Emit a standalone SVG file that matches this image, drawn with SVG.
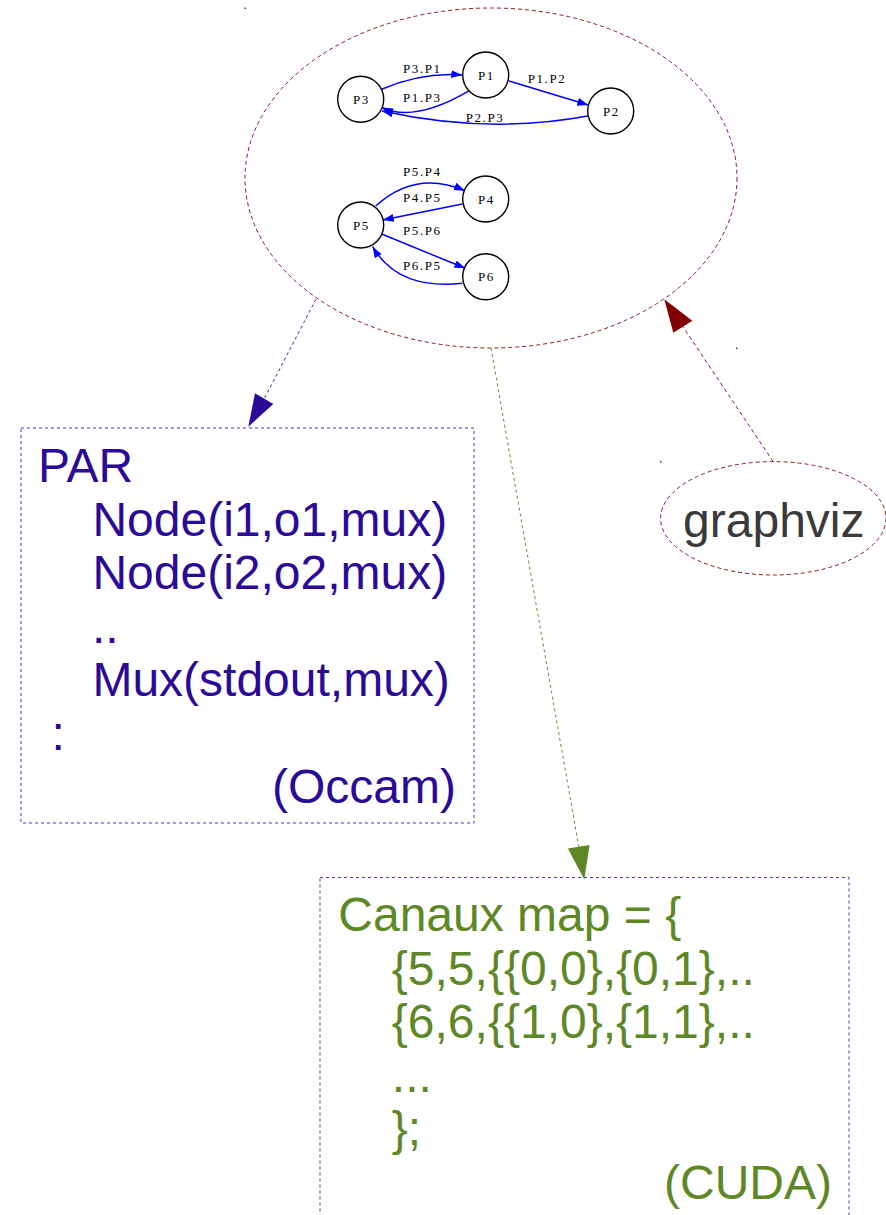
<svg xmlns="http://www.w3.org/2000/svg" width="886" height="1215" viewBox="0 0 886 1215">
<style>
.dash{fill:none;stroke-width:1;stroke-dasharray:3,3}
.red{stroke:#8b1a1a;stroke-dasharray:4,3}
.box{fill:none;stroke:#4040b0;stroke-width:1;stroke-dasharray:3,3}
.big{font-family:"Liberation Sans",Arial,sans-serif;font-size:48px}
.occ{fill:#2c0a98}
.cuda{fill:#5e8726}
.gv{fill:#3a3a3a}
.pn{fill:#fff;stroke:#000;stroke-width:1.4}
.pl{font-family:"Liberation Serif","Times New Roman",serif;font-size:13px;letter-spacing:1.6px;fill:#000}
.pe{fill:none;stroke:#0000ff;stroke-width:1.5}
</style>
<defs>
<marker id="ah" markerUnits="userSpaceOnUse" markerWidth="12" markerHeight="9" refX="11" refY="4" orient="auto">
<path d="M0,0 L11,4 L0,8 z" fill="#0000ff"/>
</marker>
</defs>

<g id="dots" fill="#8b1a1a">
<rect x="244.5" y="7.5" width="1.5" height="1.5"/>
<rect x="736" y="347.5" width="1.5" height="1.5"/>
<rect x="660" y="461" width="1.5" height="1.5"/>
</g>

<g id="graph-container">
<ellipse class="dash red" cx="491" cy="178" rx="246" ry="170"/>
</g>

<g id="inner-edges">
<path class="pe" marker-end="url(#ah)" d="M381.7,89.3 Q422,71.8 462.3,75"/>
<path class="pe" marker-end="url(#ah)" d="M469.3,90.7 Q414.5,123 381.7,107.5"/>
<path class="pe" marker-end="url(#ah)" d="M509,81 L588.3,105"/>
<path class="pe" marker-end="url(#ah)" d="M587.7,116 Q488.5,134.5 382,111"/>
<path class="pe" marker-end="url(#ah)" d="M375.7,206 Q415.7,169.7 465,190.7"/>
<path class="pe" marker-end="url(#ah)" d="M462.3,204 L382.7,220"/>
<path class="pe" marker-end="url(#ah)" d="M382.3,234.3 L465.3,268.3"/>
<path class="pe" marker-end="url(#ah)" d="M462.3,283.3 C425,287 392,280 372.7,246.7"/>
<text class="pl" x="403" y="72.7">P3.P1</text>
<text class="pl" x="403" y="101.7">P1.P3</text>
<text class="pl" x="527.7" y="83.3">P1.P2</text>
<text class="pl" x="465.7" y="121.7">P2.P3</text>
<text class="pl" x="403" y="175.7">P5.P4</text>
<text class="pl" x="403" y="202.3">P4.P5</text>
<text class="pl" x="403" y="235">P5.P6</text>
<text class="pl" x="403" y="269.5">P6.P5</text>
</g>

<g id="P1"><circle class="pn" cx="485.7" cy="75" r="23"/><text class="pl" x="486.5" y="79.5" text-anchor="middle">P1</text></g>
<g id="P2"><circle class="pn" cx="610.7" cy="111" r="23"/><text class="pl" x="611.5" y="115.5" text-anchor="middle">P2</text></g>
<g id="P3"><circle class="pn" cx="360.7" cy="99.3" r="23"/><text class="pl" x="361.5" y="103.8" text-anchor="middle">P3</text></g>
<g id="P4"><circle class="pn" cx="485.7" cy="199" r="23"/><text class="pl" x="486.5" y="203.5" text-anchor="middle">P4</text></g>
<g id="P5"><circle class="pn" cx="360.7" cy="225" r="23"/><text class="pl" x="361.5" y="229.5" text-anchor="middle">P5</text></g>
<g id="P6"><circle class="pn" cx="485.7" cy="276.7" r="23"/><text class="pl" x="486.5" y="281.2" text-anchor="middle">P6</text></g>

<g id="connectors">
<line class="dash" stroke="#3a2db5" x1="316" y1="299.3" x2="264.2" y2="398.7"/>
<polygon fill="#2c0a98" points="248.3,426.7 255,393.3 273.3,404"/>
<line class="dash" stroke="#6b8a2e" x1="491" y1="348" x2="578.8" y2="846.8"/>
<polygon fill="#5e8726" points="584.3,879.5 567.9,848.6 589.6,845"/>
<line class="dash red" x1="773.3" y1="461.7" x2="682.8" y2="326.7"/>
<polygon fill="#800000" points="664.3,299.3 673.3,332.7 692.3,320.7"/>
</g>

<g id="occam">
<rect class="box" x="21" y="428" width="453" height="395"/>
<text class="big occ" x="38" y="482">PAR</text>
<text class="big occ" x="92.4" y="535.5">Node(i1,o1,mux)</text>
<text class="big occ" x="92.4" y="589">Node(i2,o2,mux)</text>
<text class="big occ" x="92" y="642.5">..</text>
<text class="big occ" x="92.4" y="696">Mux(stdout,mux)</text>
<text class="big occ" x="51.5" y="749.5">:</text>
<text class="big occ" x="456" y="803" text-anchor="end">(Occam)</text>
</g>

<g id="cuda">
<rect class="box" x="320" y="877.5" width="529" height="400"/>
<text class="big cuda" x="338.3" y="931">Canaux map = {</text>
<text class="big cuda" x="391.8" y="984.5">{5,5,{{0,0},{0,1},..</text>
<text class="big cuda" x="391.8" y="1038">{6,6,{{1,0},{1,1},..</text>
<text class="big cuda" x="391.8" y="1091.5">...</text>
<text class="big cuda" x="391.8" y="1145">};</text>
<text class="big cuda" x="832" y="1198.5" text-anchor="end">(CUDA)</text>
</g>

<g id="graphviz">
<ellipse class="dash red" cx="773.3" cy="518.3" rx="112.7" ry="56.7"/>
<text class="big gv" x="773.8" y="536.7" text-anchor="middle">graphviz</text>
</g>
</svg>
